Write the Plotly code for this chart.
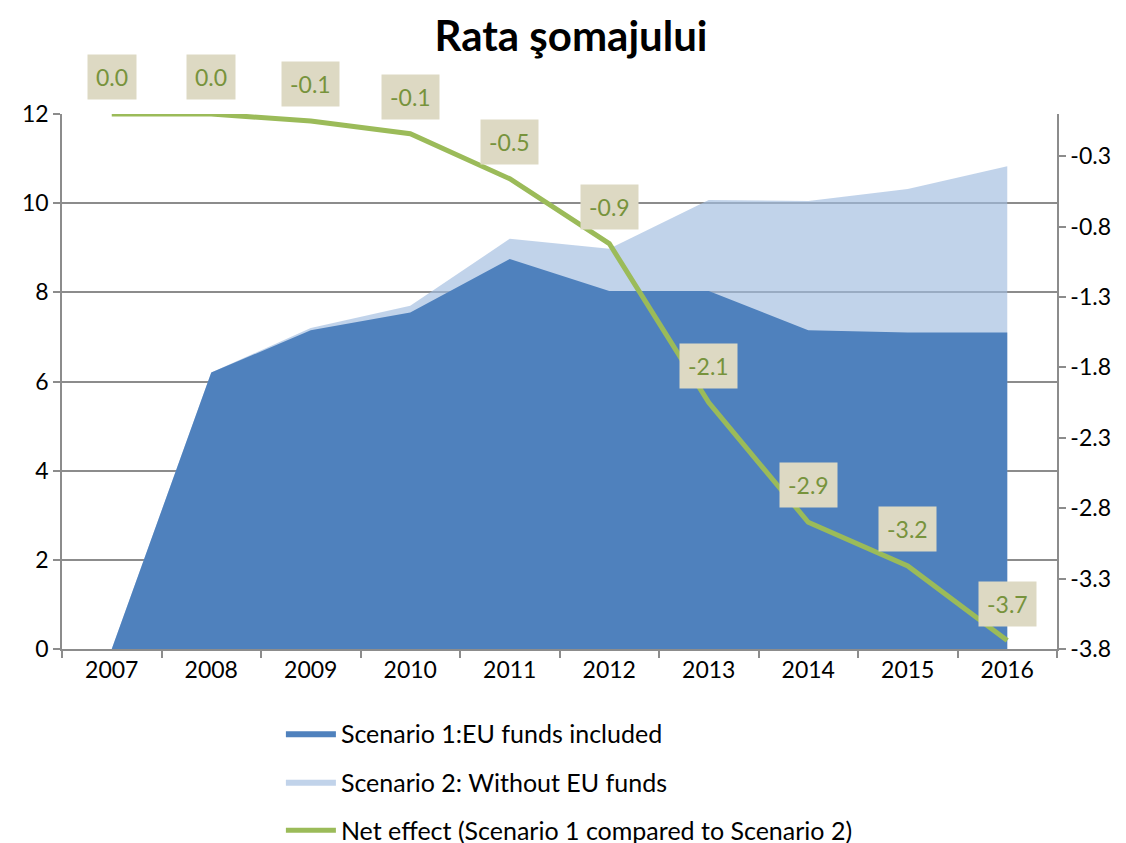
import plotly.graph_objects as go

years = [2007, 2008, 2009, 2010, 2011, 2012, 2013, 2014, 2015, 2016]
scenario1 = [0.0, 6.2, 7.15, 7.55, 8.75, 8.03, 8.03, 7.15, 7.1, 7.1]
scenario2 = [0.0, 6.2, 7.2, 7.7, 9.2, 8.98, 10.07, 10.05, 10.32, 10.83]
net_effect = [0.0, 0.0, -0.05, -0.14, -0.46, -0.92, -2.05, -2.9, -3.21, -3.74]
net_labels = ["0.0", "0.0", "-0.1", "-0.1", "-0.5", "-0.9", "-2.1", "-2.9", "-3.2", "-3.7"]
right_ticks = [-3.8, -3.3, -2.8, -2.3, -1.8, -1.3, -0.8, -0.3]

FONT = "Lato"
GRID = "#8c8c8c"

fig = go.Figure()
fig.add_trace(go.Scatter(
    x=years, y=scenario2, name="Scenario 2: Without EU funds",
    mode="lines", line=dict(width=0), fill="tozeroy",
    fillcolor="rgba(160,188,222,0.65)", legendgroup="b", legendrank=2,
))
fig.add_trace(go.Scatter(
    x=years, y=scenario1, name="Scenario 1:EU funds included",
    mode="lines", line=dict(width=0), fill="tozeroy",
    fillcolor="#4f81bd", legendgroup="a", legendrank=1,
))
fig.add_trace(go.Scatter(
    x=years, y=net_effect, name="Net effect (Scenario 1 compared to Scenario 2)",
    mode="lines", line=dict(color="#9bbb59", width=5), yaxis="y2",
    legendgroup="c", legendrank=3,
))

for xv, yv, t in zip(years, net_effect, net_labels):
    fig.add_annotation(
        x=xv, y=yv, xref="x", yref="y2", text=t, showarrow=False,
        yshift=37, bgcolor="#ddd9c3", borderpad=8,
        font=dict(family=FONT, size=23, color="#77933c"),
    )

fig.update_layout(
    width=1126, height=843,
    margin=dict(l=54, r=77, t=106, b=202, autoexpand=False),
    paper_bgcolor="white", plot_bgcolor="white",
    title=dict(text="<b>Rata şomajului</b>", x=0.5, xanchor="center",
               y=0.966, yanchor="middle",
               font=dict(family=FONT, size=42, color="black")),
    font=dict(family=FONT, size=23, color="black"),
    showlegend=True,
    legend=dict(orientation="v", x=0.22, xanchor="left", y=-0.115, yanchor="top",
                font=dict(family=FONT, size=25, color="black"),
                tracegroupgap=13, traceorder="grouped", itemwidth=50),
    xaxis=dict(range=[2006.5, 2016.5], tickvals=years, ticktext=[str(y) for y in years],
               ticks="", showgrid=False, showline=True, linecolor=GRID, linewidth=1.5,
               tickfont=dict(family=FONT, size=23),
               minor=dict(ticks="outside", ticklen=7, tickcolor=GRID, tickwidth=1.5,
                          tick0=2006.5, dtick=1, showgrid=False),
               zeroline=False, fixedrange=True),
    yaxis=dict(range=[0, 12], dtick=2, tick0=0, showgrid=True, gridcolor=GRID, gridwidth=1.5,
               showline=True, linecolor=GRID, linewidth=1.5, ticks="outside", ticklen=7,
               tickcolor=GRID, tickwidth=1.5, zeroline=False,
               tickfont=dict(family=FONT, size=23)),
    yaxis2=dict(range=[-3.8, 0], overlaying="y", side="right", tickvals=right_ticks,
                ticktext=[f"{v:.1f}" for v in right_ticks], showgrid=False,
                showline=True, linecolor=GRID, linewidth=1.5, ticks="outside", ticklen=7,
                tickcolor=GRID, tickwidth=1.5, zeroline=False,
                tickfont=dict(family=FONT, size=23)),
)

fig.write_html("out.html")
